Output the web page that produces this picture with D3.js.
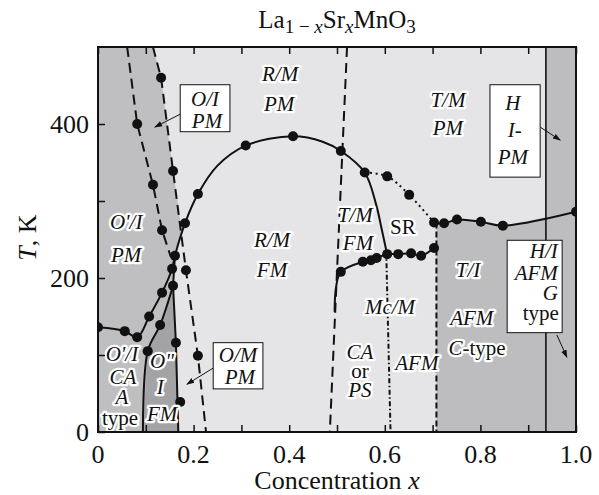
<!DOCTYPE html>
<html>
<head>
<meta charset="utf-8">
<script src="https://cdn.jsdelivr.net/npm/d3@7"></script>
<style>
  html, body { margin: 0; padding: 0; background: #fff; }
  svg { display: block; }
  text { font-family: "Liberation Serif", "DejaVu Serif", serif; fill: #111; }
  .lbl { font-size: 21px; stroke: #fff; stroke-width: 4.5px; paint-order: stroke; stroke-linejoin: round; }
  .boxtxt { font-size: 21px; }
</style>
</head>
<body>
<svg id="chart" width="599" height="495"></svg>
<script>
// ---- Phase diagram data (x = Sr concentration, T in kelvin) ----
const xTicks = [0, 0.2, 0.4, 0.6, 0.8, 1.0];
const xMinorTicks = d3.range(0, 1.0001, 0.1);
const yTicks = [0, 200, 400];
const yMinorTicks = [0, 100, 200, 300, 400];

// Boundary between O' and O (left dashed line)
const oPrimeLine = [[0.061, 500], [0.082, 400], [0.115, 321], [0.134, 262], [0.152, 228]];
// Boundary between orthorhombic and rhombohedral structure (right dashed line)
const rhomboLine = [[0.115, 500], [0.132, 460], [0.157, 339], [0.184, 210], [0.209, 99], [0.226, 0]];
// Curie / Néel temperature (main solid curve)
const tcLine = [[0, 136], [0.056, 131], [0.082, 123], [0.107, 150], [0.134, 181], [0.155, 212],
  [0.161, 229], [0.182, 271], [0.209, 309], [0.25, 346], [0.309, 372], [0.408, 384], [0.47, 377],
  [0.508, 365], [0.558, 337], [0.582, 295], [0.594, 262], [0.603, 236]];
// O'' phase edges
const oDblLeft = [[0.094, 0], [0.104, 105], [0.130, 139], [0.157, 190]];
const oDblRight = [[0.161, 229], [0.157, 190], [0.163, 116], [0.168, 0]];
// Rhombohedral / tetragonal boundary
const tetraLine = [[0.521, 500], [0.485, 0]];
// Lower ferromagnetic / AFM transition curve
const tnLine = [[0.495, 156], [0.498, 188], [0.508, 208], [0.554, 221], [0.571, 223], [0.583, 226],
  [0.605, 231], [0.628, 231], [0.655, 232], [0.676, 229], [0.703, 239]];
// Spin-reorientation (dotted)
const srLine = [[0.558, 337], [0.605, 332], [0.651, 308], [0.703, 272]];
// High-x transition curve
const highLine = [[0.703, 272], [0.724, 271], [0.751, 276], [0.801, 273], [0.847, 268], [1.0, 286]];
// Vertical phase boundaries
const cTypeEdge = [[0.708, 272], [0.708, 0]];
const mcEdge = [[0.603, 234], [0.612, 0]];
const hexEdge = [[0.937, 500], [0.937, 0]];

// Measured points
const points = [
  [0.082, 400], [0.132, 460], [0.157, 339], [0.115, 321], [0.134, 262],
  [0.182, 271], [0.209, 309], [0.309, 372], [0.408, 384], [0.508, 365], [0.558, 337],
  [0.605, 332], [0.651, 308], [0.703, 272], [0.724, 271], [0.751, 276], [0.801, 273], [0.847, 268], [1.0, 286],
  [0.161, 229], [0.155, 212], [0.184, 210], [0.157, 190], [0.134, 181], [0.107, 150], [0.130, 139],
  [0, 136], [0.056, 131], [0.082, 123], [0.104, 105], [0.163, 116], [0.172, 39], [0.209, 99],
  [0.508, 208], [0.554, 221], [0.571, 223], [0.583, 226], [0.605, 231], [0.628, 231], [0.655, 232],
  [0.676, 229], [0.703, 239]
];

// Shaded phase regions
const leftRegion = [[0, 0], [0, 500], [0.115, 500], [0.132, 460], [0.157, 339], [0.175, 262],
  [0.161, 229], [0.157, 190], [0.163, 116], [0.168, 0]];
const oDblRegion = [[0.094, 0], [0.104, 105], [0.130, 139], [0.157, 190], [0.163, 116], [0.168, 0]];
const cTypeRegion = [[0.708, 0], [0.708, 272], [0.724, 271], [0.751, 276], [0.801, 273],
  [0.847, 268], [0.937, 279], [0.937, 0]];
const hexRegion = [[0.937, 0], [0.937, 500], [1, 500], [1, 0]];

// Phase labels: each group is one multi-line label; line = [x, T, parts]  (parts: [string, italic])
const phaseLabels = [
  [[0.381, 465, [["R/M", 1]]], [0.379, 426, [["PM", 1]]]],
  [[0.364, 249, [["R/M", 1]]], [0.364, 210, [["FM", 1]]]],
  [[0.059, 273, [["O'/I", 1]]], [0.059, 230, [["PM", 1]]]],
  [[0.732, 431, [["T/M", 1]]], [0.732, 395, [["PM", 1]]]],
  [[0.538, 282, [["T/M", 1]]], [0.544, 245, [["FM", 1]]]],
  [[0.638, 266, [["SR", 0]]]],
  [[0.611, 162, [["Mc/M", 1]]]],
  [[0.774, 210, [["T/I", 1]]], [0.782, 148, [["AFM", 1]]], [0.793, 109, [["C", 1], ["-type", 0]]]],
  [[0.548, 104, [["CA", 1]]], [0.548, 79, [["or", 0]]], [0.548, 54, [["PS", 1]]]],
  [[0.667, 90, [["AFM", 1]]]],
  [[0.050, 101, [["O'/I", 1]]], [0.052, 72, [["CA", 1]]], [0.050, 45, [["A", 1]]], [0.046, 18, [["type", 0]]]],
  [[0.134, 92, [["O\"", 1]]], [0.130, 58, [["I", 1]]], [0.134, 24, [["FM", 1]]]]
];

// Boxed labels: extent [x0, Ttop, x1, Tbottom], lines [x, T, text, italic], anchor, arrow [from, to]
const boxes = [
  { box: [0.172, 451, 0.276, 390], anchor: "middle",
    lines: [[0.224, 432, "O/I", 1], [0.228, 404, "PM", 1]],
    arrow: [[0.176, 414], [0.119, 396]] },
  { box: [0.241, 116, 0.345, 56], anchor: "middle",
    lines: [[0.293, 100, "O/M", 1], [0.297, 72, "PM", 1]],
    arrow: [[0.241, 83], [0.186, 62]] },
  { box: [0.820, 451, 0.925, 331], anchor: "middle",
    lines: [[0.868, 427, "H", 1], [0.872, 392, "I-", 1], [0.868, 357, "PM", 1]],
    arrow: [[0.925, 396], [0.967, 379]] },
  { box: [0.856, 249, 0.971, 129], anchor: "end",
    lines: [[0.962, 235, "H/I", 1], [0.962, 206, "AFM", 1], [0.962, 180, "G", 1], [0.964, 154, "type", 0]],
    arrow: [[0.960, 126], [0.981, 97]] }
];

// ---- Drawing ----
const svg = d3.select("#chart");
const margin = { left: 98, right: 23, top: 47, bottom: 63 };
const W = 599, H = 495;
const x = d3.scaleLinear().domain([0, 1]).range([margin.left, W - margin.right]);
const y = d3.scaleLinear().domain([0, 500]).range([H - margin.bottom, margin.top]);

const defs = svg.append("defs");
defs.append("clipPath").attr("id", "plotClip").append("rect")
  .attr("x", x(0)).attr("y", y(500)).attr("width", x(1) - x(0)).attr("height", y(0) - y(500));
defs.append("marker").attr("id", "arrowHead")
  .attr("viewBox", "0 0 10 10").attr("refX", 9).attr("refY", 5)
  .attr("markerWidth", 8).attr("markerHeight", 8).attr("markerUnits", "userSpaceOnUse")
  .attr("orient", "auto")
  .append("path").attr("d", "M0,1.5 L10,5 L0,8.5 Z").attr("fill", "#111");

const plot = svg.append("g").attr("clip-path", "url(#plotClip)");

// background
plot.append("rect").attr("x", x(0)).attr("y", y(500))
  .attr("width", x(1) - x(0)).attr("height", y(0) - y(500)).attr("fill", "#e5e5e7");

const poly = d3.line().x(d => x(d[0])).y(d => y(d[1]));
function region(data, color) {
  plot.append("path").attr("d", poly(data) + "Z").attr("fill", color).attr("stroke", "none");
}
region(leftRegion, "#bfbfc1");
region(oDblRegion, "#a3a3a5");
region(cTypeRegion, "#bdbdbf");
region(hexRegion, "#bdbdbf");

const smooth = d3.line().x(d => x(d[0])).y(d => y(d[1])).curve(d3.curveCatmullRom.alpha(0.5));
function boundary(data, dash, curved, width) {
  plot.append("path").attr("d", (curved ? smooth : poly)(data))
    .attr("fill", "none").attr("stroke", "#111").attr("stroke-width", width || 2)
    .attr("stroke-dasharray", dash || null).attr("stroke-linecap", "butt");
}
boundary(oPrimeLine, "10,6", false);
boundary(rhomboLine, "10,6", false);
boundary(tetraLine, "10,6", false);
boundary(tcLine, null, true);
boundary(oDblLeft, null, true);
boundary(oDblRight, null, false);
boundary(tnLine, null, true);
boundary(srLine, "2,3.5", true);
boundary(highLine, null, true);
boundary(cTypeEdge, "6,3", false);
boundary(mcEdge, "5,2.5,1.5,2.5", false);
boundary(hexEdge, null, false, 1.6);

plot.selectAll("circle.pt").data(points).join("circle").attr("class", "pt")
  .attr("cx", d => x(d[0])).attr("cy", d => y(d[1])).attr("r", 5).attr("fill", "#111");

// phase labels with white halo (one text element per multi-line label)
const lab = svg.append("g");
phaseLabels.forEach(group => {
  const t = lab.append("text").attr("class", "lbl").attr("text-anchor", "middle");
  group.forEach(([lx, lt, parts], i) => {
    parts.forEach(([s, it], j) => {
      const sp = t.append("tspan").text(s).style("font-style", it ? "italic" : "normal");
      if (j === 0) sp.attr("x", x(lx)).attr("y", y(lt) + 7);
    });
  });
});

// boxed labels
boxes.forEach(b => {
  const [bx0, bt0, bx1, bt1] = b.box;
  svg.append("line").attr("x1", x(b.arrow[0][0])).attr("y1", y(b.arrow[0][1]))
    .attr("x2", x(b.arrow[1][0])).attr("y2", y(b.arrow[1][1]))
    .attr("stroke", "#111").attr("stroke-width", 1).attr("marker-end", "url(#arrowHead)");
  svg.append("rect").attr("x", x(bx0)).attr("y", y(bt0))
    .attr("width", x(bx1) - x(bx0)).attr("height", y(bt1) - y(bt0))
    .attr("fill", "#fff").attr("stroke", "#111").attr("stroke-width", 1);
  const t = svg.append("text").attr("class", "boxtxt").attr("text-anchor", b.anchor);
  b.lines.forEach(([lx, lt, s, it]) => {
    t.append("tspan").attr("x", x(lx)).attr("y", y(lt) + 7)
      .style("font-style", it ? "italic" : "normal").text(s);
  });
});

// frame
svg.append("rect").attr("x", x(0)).attr("y", y(500)).attr("width", x(1) - x(0)).attr("height", y(0) - y(500))
  .attr("fill", "none").attr("stroke", "#111").attr("stroke-width", 2);

// axes: inward ticks on bottom / top / left
const tickLen = 7;
const bottomAxis = d3.axisBottom(x).tickValues(xMinorTicks).tickSize(-tickLen).tickFormat("");
const topAxis = d3.axisTop(x).tickValues(xMinorTicks).tickSize(-tickLen).tickFormat("");
const leftAxis = d3.axisLeft(y).tickValues(yMinorTicks).tickSize(-tickLen).tickFormat("");
[[bottomAxis, `translate(0,${y(0)})`], [topAxis, `translate(0,${y(500)})`], [leftAxis, `translate(${x(0)},0)`]]
  .forEach(([ax, tr]) => {
    const g = svg.append("g").attr("transform", tr).call(ax);
    g.select(".domain").remove();
    g.selectAll("line").attr("stroke", "#111").attr("stroke-width", 1.5);
  });

// tick labels
svg.append("g").selectAll("text").data(xTicks).join("text")
  .attr("x", d => x(d)).attr("y", y(0) + 31).attr("text-anchor", "middle")
  .attr("font-size", 26).text(d => d === 0 ? "0" : d3.format(".1f")(d));
svg.append("g").selectAll("text").data(yTicks).join("text")
  .attr("x", x(0) - 9).attr("y", d => y(d)).attr("dy", "0.35em").attr("text-anchor", "end")
  .attr("font-size", 26).text(d => d);

// axis titles
const xt = svg.append("text").attr("x", 337).attr("y", 489).attr("text-anchor", "middle").attr("font-size", 26);
xt.append("tspan").text("Concentration ");
xt.append("tspan").style("font-style", "italic").text("x");

const yt = svg.append("text").attr("transform", `translate(36,${(y(0) + y(500)) / 2 - 2})rotate(-90)`)
  .attr("text-anchor", "middle").attr("font-size", 26);
yt.append("tspan").style("font-style", "italic").text("T");
yt.append("tspan").text(", K");

// chart title: La(1-x)Sr(x)MnO3
const tt = svg.append("text").attr("x", 337).attr("y", 28).attr("text-anchor", "middle").attr("font-size", 25);
tt.append("tspan").text("La");
tt.append("tspan").attr("font-size", 19).attr("dy", 5).text("1 \u2212 ");
tt.append("tspan").attr("font-size", 19).style("font-style", "italic").text("x");
tt.append("tspan").attr("dy", -5).text("Sr");
tt.append("tspan").attr("font-size", 19).style("font-style", "italic").attr("dy", 5).text("x");
tt.append("tspan").attr("dy", -5).text("MnO");
tt.append("tspan").attr("font-size", 19).attr("dy", 5).text("3");
</script>
</body>
</html>
